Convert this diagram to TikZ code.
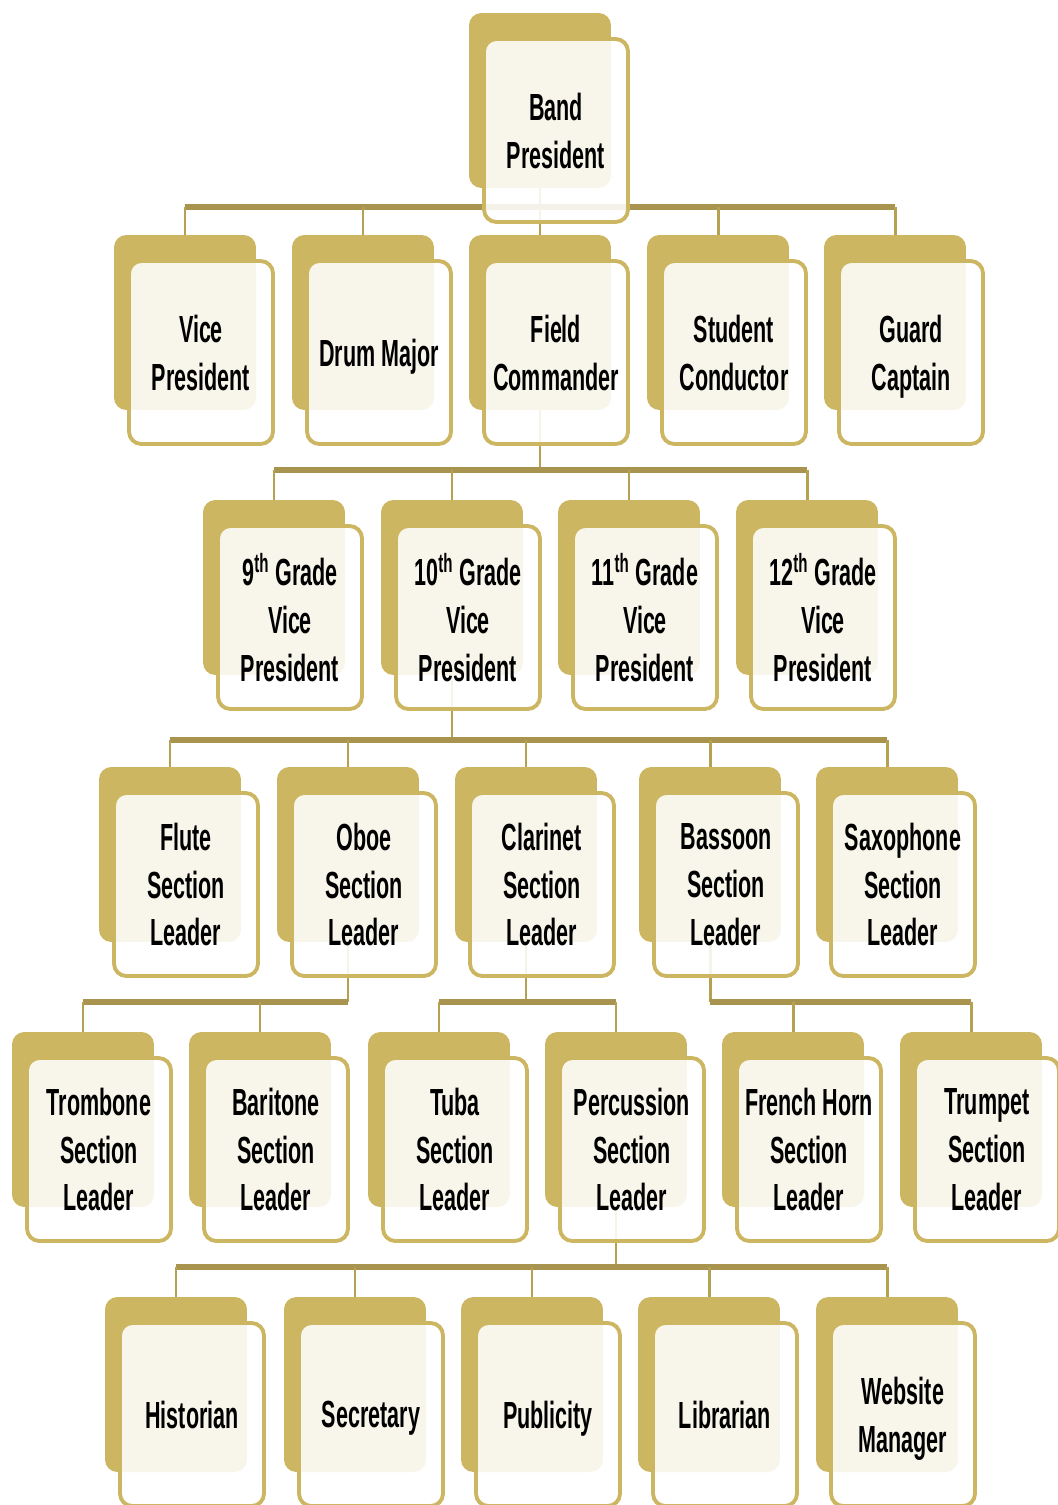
\documentclass[tikz,border=0pt]{standalone}
\usepackage{fontspec}
\setmainfont{Liberation Sans}[FakeStretch=0.57]
\usetikzlibrary{calc}
\definecolor{bandgold}{HTML}{CDB662}
\definecolor{busgold}{HTML}{A8944F}
\definecolor{dropgold}{HTML}{B5A152}
\newcommand{\bandmembers}{%
  pres/540/100.5/{Band\\President},
  vp/185/322.5/{Vice\\President}, dm/363/322.5/{Drum Major}, fc/540/322.5/{Field\\Commander},
  sc/718/322.5/{Student\\Conductor}, gc/895/322.5/{Guard\\Captain},
  gnine/274/587.5/{9\textsuperscript{th} Grade\\Vice\\President}, gten/452/587.5/{10\textsuperscript{th} Grade\\Vice\\President},
  geleven/629/587.5/{11\textsuperscript{th} Grade\\Vice\\President}, gtwelve/807/587.5/{12\textsuperscript{th} Grade\\Vice\\President},
  flute/170/854.5/{Flute\\Section\\Leader}, oboe/348/854.5/{Oboe\\Section\\Leader}, clar/526/854.5/{Clarinet\\Section\\Leader},
  bass/710/854.5/{Bassoon\\Section\\Leader}, sax/887/854.5/{Saxophone\\Section\\Leader},
  tromb/83/1119.5/{Trombone\\Section\\Leader}, bari/260/1119.5/{Baritone\\Section\\Leader}, tuba/439/1119.5/{Tuba\\Section\\Leader},
  perc/616/1119.5/{Percussion\\Section\\Leader}, horn/793/1119.5/{French Horn\\Section\\Leader}, trump/971/1119.5/{Trumpet\\Section\\Leader},
  hist/176/1384.5/{Historian}, sec/355/1384.5/{Secretary}, pub/532/1384.5/{Publicity},
  lib/709/1384.5/{Librarian}, web/887/1384.5/{Website\\Manager}}

\begin{document}
\begin{tikzpicture}[x=0.02cm, y=-0.02cm,
  backbox/.style={fill=bandgold,rounded corners=7pt,minimum width=2.84cm,minimum height=3.5cm,inner sep=0pt},
  frontbox/.style={draw=bandgold,line width=2.2pt,fill=white,fill opacity=0.88,text opacity=1,rounded corners=7pt,minimum width=2.88cm,minimum height=3.66cm,inner sep=0pt,text depth=0pt,align=center,font=\bfseries\fontsize{21.5}{27.2}\selectfont},
  bus/.style={busgold,line width=3.2pt},
  drop/.style={dropgold,line width=1.7pt}]
\useasboundingbox (0,0) rectangle (1058,1505);
% back cards
\foreach \n/\x/\y/\t in \bandmembers {\node[backbox] (\n-b) at (\x,\y) {};}
% bus levels
\coordinate (b1) at (0,207);
\coordinate (b2) at (0,470);
\coordinate (b3) at (0,740);
\coordinate (b4) at (0,1002);
\coordinate (b5) at (0,1267);
% president -> officers
\draw[drop] (pres-b.south) -- (pres-b.south |- b1);
\draw[bus] (vp-b.north |- b1) -- (gc-b.north |- b1);
\foreach \n in {vp,dm,fc,sc,gc}{\draw[drop] (\n-b.north) -- (\n-b.north |- b1);}
% field commander -> grade vps
\draw[drop] (fc-b.south) -- (fc-b.south |- b2);
\draw[bus] (gnine-b.north |- b2) -- (gtwelve-b.north |- b2);
\foreach \n in {gnine,gten,geleven,gtwelve}{\draw[drop] (\n-b.north) -- (\n-b.north |- b2);}
% 10th grade vp -> woodwinds
\draw[drop] (gten-b.south) -- (gten-b.south |- b3);
\draw[bus] (flute-b.north |- b3) -- (sax-b.north |- b3);
\foreach \n in {flute,oboe,clar,bass,sax}{\draw[drop] (\n-b.north) -- (\n-b.north |- b3);}
% woodwinds -> brass and percussion
\draw[drop] (oboe-b.south) -- (oboe-b.south |- b4);
\draw[bus] (tromb-b.north |- b4) -- (oboe-b.south |- b4);
\draw[drop] (clar-b.south) -- (clar-b.south |- b4);
\draw[bus] (tuba-b.north |- b4) -- (perc-b.north |- b4);
\draw[drop] (bass-b.south) -- (bass-b.south |- b4);
\draw[bus] (bass-b.south |- b4) -- (trump-b.north |- b4);
\foreach \n in {tromb,bari,tuba,perc,horn,trump}{\draw[drop] (\n-b.north) -- (\n-b.north |- b4);}
% percussion -> staff
\draw[drop] (perc-b.south) -- (perc-b.south |- b5);
\draw[bus] (hist-b.north |- b5) -- (web-b.north |- b5);
\foreach \n in {hist,sec,pub,lib,web}{\draw[drop] (\n-b.north) -- (\n-b.north |- b5);}
% front cards
\foreach \n/\x/\y/\t in \bandmembers {\node[frontbox] (\n) at ($(\n-b)+(16,30)$) {\t};}
\end{tikzpicture}
\end{document}
